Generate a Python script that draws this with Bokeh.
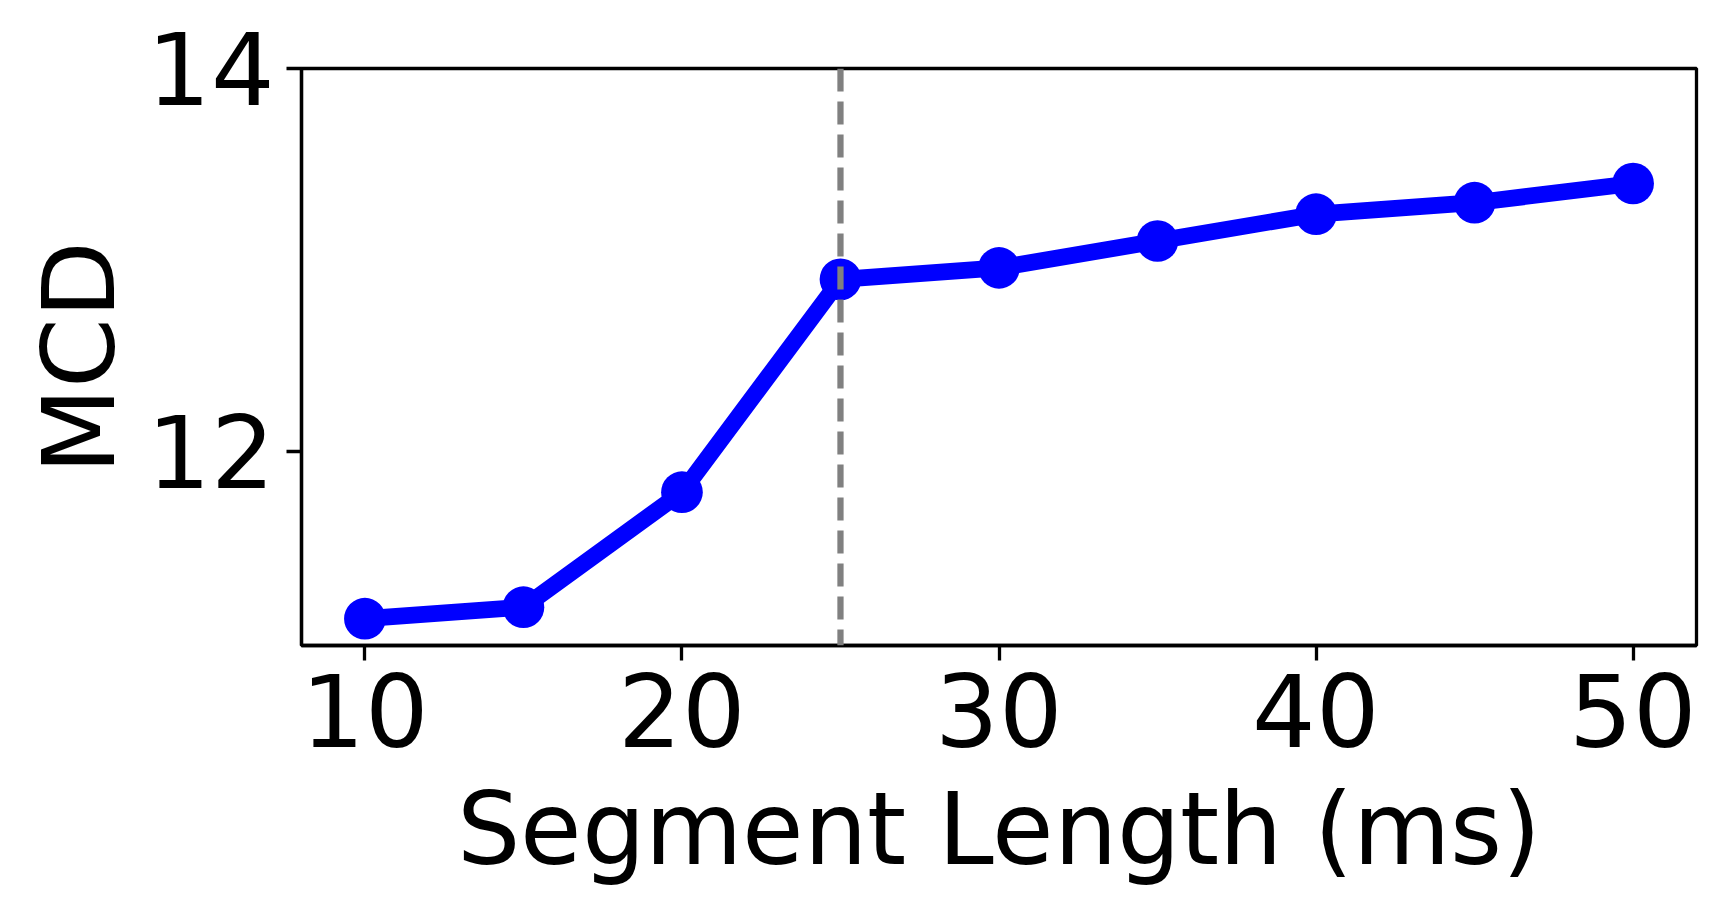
from bokeh.plotting import figure
from bokeh.models import Range1d, FixedTicker, Span, GlobalInlineStyleSheet
from bokeh.embed import file_html
from bokeh.resources import INLINE

# Data
seg_len = [10, 15, 20, 25, 30, 35, 40, 45, 50]
mcd = [11.13, 11.19, 11.79, 12.90, 12.96, 13.10, 13.24, 13.30, 13.40]
x_ticks = [10, 20, 30, 40, 50]
y_ticks = [12, 14]
chosen_len = 25

FONT = "DejaVu Sans"

# make sure the regular (Book) face of the locally installed DejaVu Sans is used
font_css = GlobalInlineStyleSheet(css="""
@font-face {
  font-family: "DejaVu Sans";
  src: local("DejaVu Sans"), local("DejaVuSans"), local("DejaVu Sans Book");
  font-weight: normal;
  font-style: normal;
}
""")

p = figure(width=1709, height=899, output_backend="svg", toolbar_location=None,
           x_range=Range1d(8, 52), y_range=Range1d(10.99, 14.0),
           min_border_left=301, min_border_right=13, min_border_top=68, min_border_bottom=254)
p.stylesheets = [font_css]

p.grid.visible = False
p.background_fill_color = "white"
p.border_fill_color = "white"
p.outline_line_color = "black"
p.outline_line_width = 3.3
p.outline_line_alpha = 1.0

for ax in (p.xaxis[0], p.yaxis[0]):
    ax.axis_line_color = "black"
    ax.axis_line_width = 3.3
    ax.major_tick_line_color = "black"
    ax.major_tick_line_width = 3.3
    ax.major_tick_out = 15
    ax.major_tick_in = 0
    ax.minor_tick_line_color = None
    ax.major_label_text_font = FONT
    ax.major_label_text_font_size = "100px"
    ax.major_label_text_color = "black"
    ax.axis_label_text_font = FONT
    ax.axis_label_text_font_size = "100px"
    ax.axis_label_text_font_style = "normal"
    ax.axis_label_text_color = "black"

p.xaxis.ticker = FixedTicker(ticks=x_ticks)
p.yaxis.ticker = FixedTicker(ticks=y_ticks)
p.xaxis.axis_label = "Segment Length (ms)"
p.yaxis.axis_label = "MCD"
p.xaxis.major_label_standoff = 13
p.xaxis.axis_label_standoff = 21
p.yaxis.major_label_standoff = 12
p.yaxis.axis_label_standoff = 6

p.line(seg_len, mcd, line_color="#0000ff", line_width=16.7, line_join="round")
p.scatter(seg_len, mcd, size=41.7, fill_color="#0000ff", line_color=None)

vline = Span(location=chosen_len, dimension="height", line_color="#808080",
             line_width=6.25, line_dash="23 10")
p.add_layout(vline)

open("out.html", "w").write(file_html(p, INLINE))
